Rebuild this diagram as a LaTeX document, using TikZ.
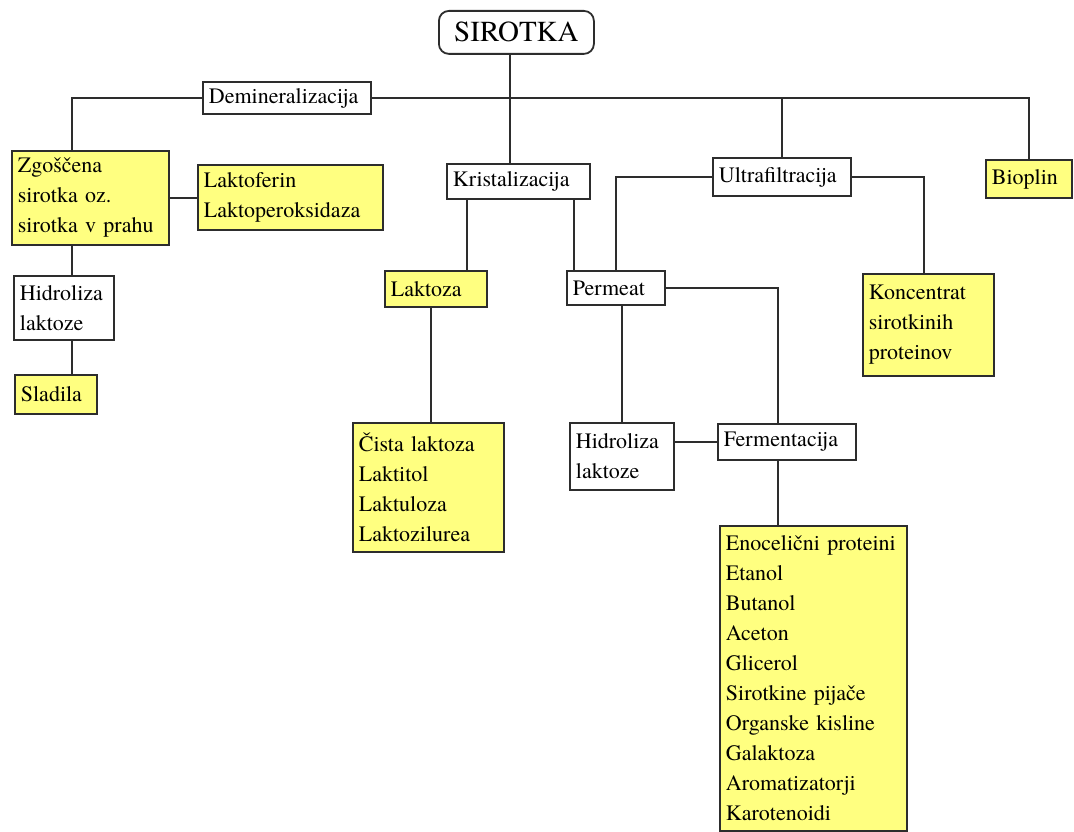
\documentclass[tikz,border=0pt]{standalone}
\usepackage{fontspec}
\setmainfont{texgyretermes}[Extension=.otf, UprightFont=*-regular, BoldFont=*-bold]
\usepackage{tikz}
\definecolor{zuta}{RGB}{255,255,128}
\definecolor{crta}{RGB}{45,45,45}

\begin{document}
\begin{tikzpicture}[x=1pt, y=-1pt,
    box/.style={draw=crta, line width=1.8pt, fill=white, anchor=north west, inner xsep=6pt, inner ysep=0pt, align=left, font=\fontsize{22}{30}\selectfont},
    izdelek/.style={box, fill=zuta},
    edge/.style={draw=crta, line width=1.8pt}]
      \useasboundingbox (0,0) rectangle (1074,832);
      % -------------------------------------------- columns of the vertical edges
      \coordinate (col_l) at (72,0);
      \coordinate (col_tr) at (510,0);
      \coordinate (col_lak) at (467,0);
      \coordinate (col_per) at (574,0);
      \coordinate (col_cis) at (431,0);
      \coordinate (col_kon) at (924,0);
      \coordinate (col_fer) at (778,0);
      % -------------------------------------------- top
      \node[box, rounded corners=10pt, align=center, minimum width=155pt, minimum height=43pt, font=\fontsize{29}{30}\selectfont] at (438,10) (sir) {SIROTKA};
      \node[box, text width=156pt, minimum height=32pt] at (202,81) (demin) {Demineralizacija};
      \node[box, text width=131pt, minimum height=35pt] at (446,163) (krist) {Kristalizacija};
      \node[box, text width=126pt, minimum height=38pt] at (712,157) (ultra) {Ultrafiltracija};
      \node[izdelek, text width=74pt, minimum height=38pt] at (985,159) (bioplin) {Bioplin};
      % -------------------------------------------- left branch
      \node[izdelek, text width=145pt, minimum height=94pt] at (11,150) (zgosc) {Zgoščena\\sirotka oz.\\sirotka v prahu};
      \node[izdelek, text width=173pt, minimum height=65pt] at (197,164) (laktof) {Laktoferin\\Laktoperoksidaza};
      \node[box, text width=88pt, minimum height=64pt] at (13,275) (hidro_a) {Hidroliza\\laktoze};
      \node[izdelek, text width=70pt, minimum height=39pt] at (14,374) (sladila) {Sladila};
      % -------------------------------------------- middle
      \node[izdelek, text width=90pt, minimum height=36pt] at (384,270) (laktoza) {Laktoza};
      \node[box, text width=86pt, minimum height=34pt] at (566,270) (permeat) {Permeat};
      \node[izdelek, text width=119pt, minimum height=102pt] at (862,273) (koncent) {Koncentrat\\sirotkinih\\proteinov};
      \node[izdelek, text width=139pt, minimum height=129pt] at (352,422) (cista) {Čista laktoza\\Laktitol\\Laktuloza\\Laktozilurea};
      \node[box, text width=92pt, minimum height=67pt] at (569,422) (hidro_b) {Hidroliza\\laktoze};
      \node[box, text width=126pt, minimum height=36pt] at (717,423) (ferment) {Fermentacija};
      \node[izdelek, text width=175pt, minimum height=305pt] at (719,525) (prod) {Enocelični proteini\\Etanol\\Butanol\\Aceton\\Glicerol\\Sirotkine pijače\\Organske kisline\\Galaktoza\\Aromatizatorji\\Karotenoidi};
      % -------------------------------------------- draw edges
      \draw[edge] (sir.south -| col_tr) -- (krist.north -| col_tr);
      \draw[edge] (demin.west) -| (zgosc.north -| col_l);
      \draw[edge] (demin.east) -| (bioplin.north);
      \draw[edge] (ultra.north) -- (ultra.north |- demin.east);
      \draw[edge] (zgosc.east) -- (zgosc.east -| laktof.west);
      \draw[edge] (zgosc.south -| col_l) -- (hidro_a.north -| col_l);
      \draw[edge] (hidro_a.south -| col_l) -- (sladila.north -| col_l);
      \draw[edge] (krist.south -| col_lak) -- (laktoza.north -| col_lak);
      \draw[edge] (krist.south -| col_per) -- (permeat.north -| col_per);
      \draw[edge] (ultra.west) -| (permeat.north);
      \draw[edge] (ultra.east) -| (koncent.north -| col_kon);
      \draw[edge] (laktoza.south -| col_cis) -- (cista.north -| col_cis);
      \draw[edge] (permeat.south -| hidro_b.north) -- (hidro_b.north);
      \draw[edge] (permeat.east) -| (ferment.north -| col_fer);
      \draw[edge] (hidro_b.east |- ferment.west) -- (ferment.west);
      \draw[edge] (ferment.south -| col_fer) -- (prod.north -| col_fer);
    \end{tikzpicture}
\end{document}
